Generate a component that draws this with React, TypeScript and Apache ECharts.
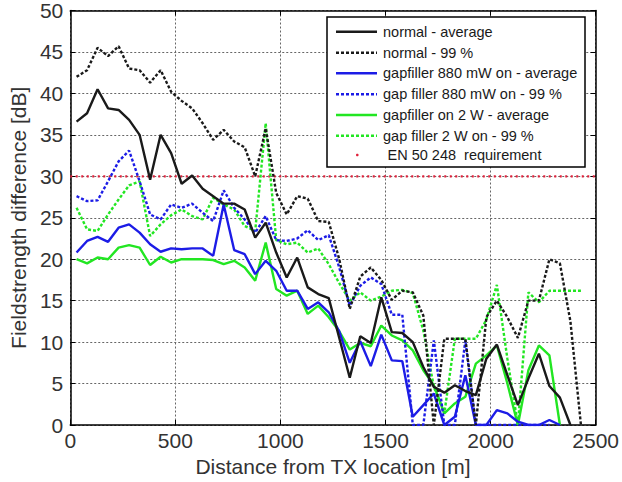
import React, { useEffect, useRef } from "react";
import * as echarts from "echarts";

const distances = [30, 80, 130, 180, 230, 280, 330, 380, 430, 480, 530, 580, 630, 680, 730, 780, 830, 880, 930, 980, 1030, 1080, 1130, 1180, 1230, 1280, 1330, 1380, 1430, 1480, 1530, 1580, 1630, 1680, 1730, 1780, 1830, 1880, 1930, 1980, 2030, 2080, 2130, 2180, 2230, 2280, 2330, 2380, 2430];

const normalAverage = [36.6, 37.6, 40.5, 38.2, 38.0, 36.8, 35.0, 29.6, 35.0, 32.8, 29.1, 30.1, 28.5, 27.6, 26.7, 26.7, 26.0, 22.6, 24.4, 20.8, 17.8, 20.2, 16.6, 15.8, 15.3, 10.5, 5.7, 10.7, 9.9, 15.4, 11.2, 11.1, 10.0, 7.0, 4.6, 3.9, 4.8, 4.1, 3.6, 8.0, 9.7, 6.0, 2.4, 5.6, 8.6, 4.7, 3.3, 0, null];
const normal99 = [42.0, 42.8, 45.5, 44.5, 45.7, 43.0, 42.8, 41.3, 42.8, 40.2, 39.1, 38.2, 36.4, 34.4, 35.6, 34.2, 33.5, 30.0, 35.8, 28.0, 25.4, 27.6, 27.3, 24.6, 24.5, 20.0, 14.0, 17.9, 19.0, 17.5, 15.1, 16.2, 16.0, 13.2, 0, 10.4, 10.4, 10.4, 0, 13.0, 15.0, 13.0, 10.5, 15.0, 15.0, 20.0, 19.5, 12.5, 0];
const gap880Average = [20.8, 22.2, 22.7, 22.1, 23.8, 24.2, 23.2, 21.8, 20.9, 21.3, 21.2, 21.3, 21.3, 20.4, 26.6, 21.1, 20.6, 18.2, 19.8, 18.6, 16.2, 16.2, 14.0, 14.8, 13.6, 11.3, 7.5, 10.1, 7.1, 10.9, 7.8, 7.7, 1.0, 2.4, 3.8, 0, 1.0, 6.0, 0, 0, 1.8, 1.4, 0.4, 0, 0, 0.6, 0, null, null];
const gap880_99 = [27.6, 27.0, 27.1, 29.4, 31.8, 33.1, 29.4, 25.4, 24.8, 26.6, 26.2, 26.7, 25.6, 24.6, 28.3, 26.2, 24.8, 23.2, 25.2, 22.3, 22.2, 22.5, 23.5, 22.3, 22.9, 19.0, 14.4, 16.8, 17.8, 17.0, 13.3, 13.3, 0, 0, 10.2, 0, 0, 10.2, 0, 0, 0, 0, 0, 0, 0, 0, null, null, null];
const gap2WAverage = [20.0, 19.5, 20.2, 20.0, 21.4, 21.7, 21.4, 19.3, 20.3, 19.6, 20.0, 20.0, 20.0, 19.9, 19.4, 19.8, 19.0, 17.4, 22.0, 16.4, 15.6, 16.2, 13.4, 14.4, 13.0, 11.3, 9.1, 9.9, 9.5, 12.0, 10.8, 10.2, 9.0, 6.6, 4.8, 1.4, 2.6, 3.4, 7.4, 8.4, 9.6, 5.0, 0, 6.6, 9.6, 8.4, 0, null, null];
const gap2W_99 = [26.2, 23.6, 23.4, 25.4, 27.2, 28.9, 29.4, 22.8, 24.2, 25.3, 26.0, 25.2, 24.8, 27.4, 26.6, 26.0, 24.0, 23.4, 36.4, 22.3, 21.8, 22.0, 20.8, 21.3, 19.4, 17.1, 15.0, 16.0, 15.0, 15.5, 16.2, 16.3, 15.9, 11.4, 4.6, 1.4, 10.4, 10.4, 10.4, 12.7, 16.9, 8.0, 0, 16.0, 14.8, 16.2, 16.2, 16.2, 16.2];
const requirementX = [0, 2500];
const requirementY = [30, 30];

const legendLabels = [
  "normal - average",
  "normal - 99 %",
  "gapfiller 880 mW on - average",
  "gap filler 880 mW on - 99 %",
  "gapfiller on 2 W - average",
  "gap filler 2 W on - 99 %",
  "EN 50 248  requirement",
];

const BLACK = "#1a1a1a";
const BLUE = "#1c1ce6";
const GREEN = "#22e622";
const RED = "#e0203a";
const DOT: number[] = [3, 2];
const FONT = "Liberation Sans, Arial, sans-serif";

function toPairs(vals: (number | null)[]) {
  const out: number[][] = [];
  vals.forEach((v, i) => {
    if (v !== null) out.push([distances[i], v]);
  });
  return out;
}

export default function App() {
  const ref = useRef<HTMLDivElement>(null);
  useEffect(() => {
    if (!ref.current) return;
    const chart = echarts.init(ref.current, undefined, { renderer: "svg" });
    const styles = [
      { color: BLACK, type: "solid" as any },
      { color: BLACK, type: DOT },
      { color: BLUE, type: "solid" as any },
      { color: BLUE, type: DOT },
      { color: GREEN, type: "solid" as any },
      { color: GREEN, type: DOT },
    ];
    const datasets = [normalAverage, normal99, gap880Average, gap880_99, gap2WAverage, gap2W_99];

    const lineSeries = datasets.map((d, k) => ({
      name: legendLabels[k],
      type: "line",
      data: toPairs(d),
      showSymbol: false,
      symbol: "none",
      lineStyle: { color: styles[k].color, width: 2.4, type: styles[k].type },
      z: 10 - k,
    }));

    const rowsY = [31.7, 52.7, 73.3, 94.3, 115, 135.7, 155];
    const lx0 = 336, lx1 = 377, tx = 383;
    const legendFont = `14.5px ${FONT}`;
    const legendElems: any[] = [
      {
        type: "rect",
        shape: { x: 327, y: 17, width: 258, height: 150 },
        style: { fill: "#fff", stroke: "#000", lineWidth: 1.5 },
        z: 100,
      },
    ];
    styles.forEach((s, k) => {
      legendElems.push({
        type: "line",
        shape: { x1: lx0, y1: rowsY[k], x2: lx1, y2: rowsY[k] },
        style: { stroke: s.color, lineWidth: 2.4, lineDash: s.type === "solid" ? null : DOT },
        z: 101,
      });
      legendElems.push({
        type: "text",
        x: tx,
        y: rowsY[k],
        style: { text: legendLabels[k], fill: "#1a1a1a", font: legendFont, textVerticalAlign: "middle" },
        z: 101,
      });
    });
    legendElems.push({
      type: "circle",
      shape: { cx: 357.3, cy: rowsY[6], r: 1.3 },
      style: { fill: RED },
      z: 101,
    });
    legendElems.push({
      type: "text",
      x: 387.5,
      y: rowsY[6],
      style: { text: legendLabels[6], fill: "#1a1a1a", font: legendFont, textVerticalAlign: "middle" },
      z: 101,
    });

    const plain = (v: number) => String(v);
    const axisLabel = { color: "#333", fontSize: 21, fontFamily: FONT, formatter: plain };
    chart.setOption({
      animation: false,
      backgroundColor: "#fff",
      grid: { left: 69, right: 24, top: 10, bottom: 57, containLabel: false },
      xAxis: [
        {
          type: "value",
          min: 0,
          max: 2500,
          interval: 500,
          axisLine: { show: true, onZero: false, lineStyle: { color: "#000", width: 1.5 } },
          axisTick: { show: true, inside: true, length: 5, lineStyle: { color: "#000" } },
          axisLabel: { ...axisLabel, margin: 5 },
          splitLine: { show: true, lineStyle: { color: "#666", type: [2, 2], width: 1 } },
          name: "Distance from TX location [m]",
          nameLocation: "middle",
          nameGap: 29,
          nameTextStyle: { color: "#333", fontSize: 21, fontFamily: FONT },
        },
        {
          type: "value",
          position: "top",
          min: 0,
          max: 2500,
          interval: 500,
          axisLine: { show: true, onZero: false, lineStyle: { color: "#000", width: 1.5 } },
          axisTick: { show: true, inside: true, length: 5, lineStyle: { color: "#000" } },
          axisLabel: { show: false },
          splitLine: { show: false },
        },
      ],
      yAxis: [
        {
          type: "value",
          min: 0,
          max: 50,
          interval: 5,
          axisLine: { show: true, onZero: false, lineStyle: { color: "#000", width: 1.5 } },
          axisTick: { show: true, inside: true, length: 5, lineStyle: { color: "#000" } },
          axisLabel: { ...axisLabel, margin: 7 },
          splitLine: { show: true, lineStyle: { color: "#666", type: [2, 2], width: 1 } },
          name: "Fieldstrength difference [dB]",
          nameLocation: "middle",
          nameGap: 38,
          nameTextStyle: { color: "#333", fontSize: 21, fontFamily: FONT },
        },
        {
          type: "value",
          position: "right",
          min: 0,
          max: 50,
          interval: 5,
          axisLine: { show: true, onZero: false, lineStyle: { color: "#000", width: 1.5 } },
          axisTick: { show: true, inside: true, length: 5, lineStyle: { color: "#000" } },
          axisLabel: { show: false },
          splitLine: { show: false },
        },
      ],
      series: [
        {
          name: legendLabels[6],
          type: "line",
          data: requirementX.map((x, i) => [x, requirementY[i]]),
          showSymbol: false,
          symbol: "none",
          lineStyle: { color: RED, width: 2.2, type: [2, 3.5] },
          z: 1,
        },
        ...lineSeries,
      ],
      graphic: legendElems,
    });
    return () => chart.dispose();
  }, []);
  return <div ref={ref} style={{ position: "fixed", left: 0, top: 0, width: 622, height: 482 }} />;
}
